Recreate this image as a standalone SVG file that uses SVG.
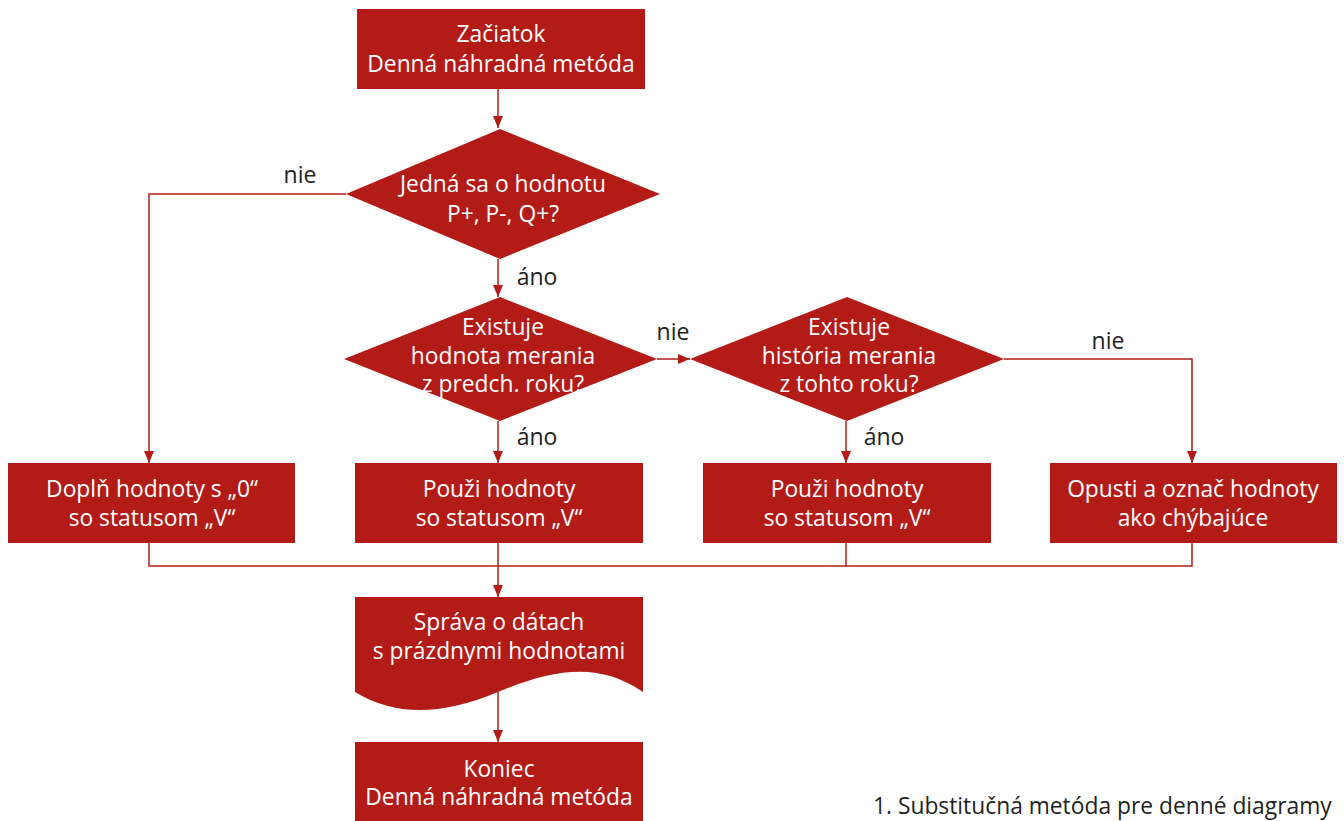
<svg xmlns="http://www.w3.org/2000/svg" width="1344" height="821" viewBox="0 0 1344 821">
<style>
.n{fill:#B31B17;}
.t{font-family:"Open Sans","Noto Sans","DejaVu Sans",sans-serif;font-size:22.8px;fill:#ffffff;text-anchor:middle;}
.l{font-family:"Open Sans","Noto Sans","DejaVu Sans",sans-serif;font-size:23px;fill:#231f20;text-anchor:middle;}
.c{stroke:#B31B17;stroke-width:1.5;fill:none;}
.cap{font-family:"Open Sans","Noto Sans","DejaVu Sans",sans-serif;font-size:22.8px;fill:#231f20;}
</style>
<defs>
<marker id="arr" viewBox="0 0 12 10" refX="12" refY="5" markerWidth="12" markerHeight="10" markerUnits="userSpaceOnUse" orient="auto">
<path d="M0,0 L12,5 L0,10 Z" fill="#B31B17"/>
</marker>
</defs>
<rect width="1344" height="821" fill="#ffffff"/>
<g id="connectors">
<path class="c" d="M498,89 V128" marker-end="url(#arr)"/>
<path class="c" d="M346,194 H149 V463" marker-end="url(#arr)"/>
<path class="c" d="M498,259 V297" marker-end="url(#arr)"/>
<path class="c" d="M657,359 H690" marker-end="url(#arr)"/>
<path class="c" d="M1004,359 H1192 V463" marker-end="url(#arr)"/>
<path class="c" d="M498,421 V463" marker-end="url(#arr)"/>
<path class="c" d="M846,421 V463" marker-end="url(#arr)"/>
<path class="c" d="M149,543 V566 H1192 V543"/>
<path class="c" d="M846,543 V566"/>
<path class="c" d="M498,543 V597" marker-end="url(#arr)"/>
<path class="c" d="M498,692 V742" marker-end="url(#arr)"/>
</g>
<g id="labels">
<text class="l" x="300" y="183">nie</text>
<text class="l" x="537" y="285">áno</text>
<text class="l" x="673" y="340">nie</text>
<text class="l" x="537" y="445">áno</text>
<text class="l" x="884" y="445">áno</text>
<text class="l" x="1108" y="349">nie</text>
</g>
<g id="start">
<rect class="n" x="357" y="9" width="288" height="80"/>
<text class="t" x="501" y="42">Začiatok</text>
<text class="t" x="501" y="72">Denná náhradná metóda</text>
</g>
<g id="decision1">
<polygon class="n" points="500,129 660,194 500,259 346,194"/>
<text class="t" x="503" y="192">Jedná sa o hodnotu</text>
<text class="t" x="503" y="222">P+, P-, Q+?</text>
</g>
<g id="decision2">
<polygon class="n" points="500,297 657,359 500,421 344,359"/>
<text class="t" x="503" y="335">Existuje</text>
<text class="t" x="503" y="364">hodnota merania</text>
<text class="t" x="503" y="392">z predch. roku?</text>
</g>
<g id="decision3">
<polygon class="n" points="847,297 1004,359 847,421 690,359"/>
<text class="t" x="849" y="335">Existuje</text>
<text class="t" x="849" y="364">história merania</text>
<text class="t" x="849" y="392">z tohto roku?</text>
</g>
<g id="box1">
<rect class="n" x="8" y="463" width="287" height="80"/>
<text class="t" x="152" y="497">Doplň hodnoty s „0“</text>
<text class="t" x="152" y="526">so statusom „V“</text>
</g>
<g id="box2">
<rect class="n" x="355" y="463" width="288" height="80"/>
<text class="t" x="499" y="497">Použi hodnoty</text>
<text class="t" x="499" y="526">so statusom „V“</text>
</g>
<g id="box3">
<rect class="n" x="703" y="463" width="288" height="80"/>
<text class="t" x="847" y="497">Použi hodnoty</text>
<text class="t" x="847" y="526">so statusom „V“</text>
</g>
<g id="box4">
<rect class="n" x="1050" y="463" width="287" height="80"/>
<text class="t" x="1193" y="497">Opusti a označ hodnoty</text>
<text class="t" x="1193" y="526">ako chýbajúce</text>
</g>
<g id="document">
<path class="n" d="M355,597 H643 V692 C600,662 555,668 498,692 C440,716 395,716 355,692 Z"/>
<text class="t" x="499" y="630">Správa o dátach</text>
<text class="t" x="499" y="659">s prázdnymi hodnotami</text>
</g>
<g id="end">
<rect class="n" x="355" y="742" width="288" height="79"/>
<text class="t" x="499" y="777">Koniec</text>
<text class="t" x="499" y="805">Denná náhradná metóda</text>
</g>
<text class="cap" x="873" y="814">1. Substitučná metóda pre denné diagramy</text>
</svg>
